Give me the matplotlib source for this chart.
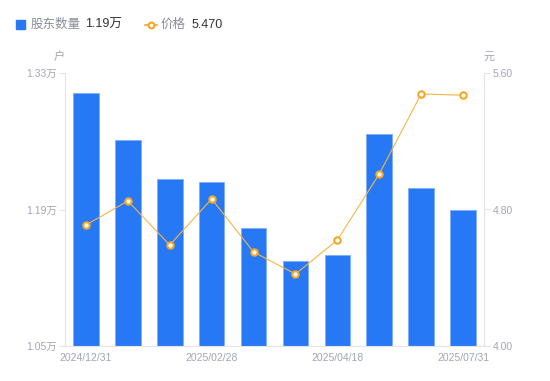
import matplotlib
matplotlib.use("Agg")
import matplotlib.pyplot as plt
from matplotlib.patches import Rectangle
from matplotlib.lines import Line2D

plt.rcParams['font.family'] = ['Liberation Sans', 'Noto Sans CJK SC', 'DejaVu Sans']

dates = ["2024/12/31", "2025/01/10", "2025/01/20", "2025/02/28", "2025/03/10",
         "2025/03/31", "2025/04/18", "2025/05/30", "2025/06/30", "2025/07/31"]
holders = [1.3095, 1.2613, 1.2213, 1.2182, 1.171, 1.1372, 1.1433, 1.2674, 1.212, 1.19]
price = [4.709, 4.850, 4.592, 4.862, 4.551, 4.422, 4.621, 5.008, 5.477, 5.470]
left_ticks = [1.05, 1.19, 1.33]
right_ticks = [4.00, 4.80, 5.60]
shown_labels = [0, 3, 6, 9]

W, H = 550, 381
fig = plt.figure(figsize=(5.5, 3.81), dpi=100)
ax = fig.add_axes([65 / W, (H - 346) / H, (484 - 65) / W, (346 - 73) / H])
ax2 = ax.twinx()

bar_color = "#2778F5"
line_color = "#F5A623"
tick_color = "#A3A5B3"
axis_color = "#E3E3E8"

x = list(range(len(dates)))
ax.bar(x, holders, width=0.61, color=bar_color, edgecolor="#7FAEF8", linewidth=0.6, zorder=2)
ax.set_xlim(-0.5, len(dates) - 0.5)
ax.set_ylim(left_ticks[0], left_ticks[-1])
ax.set_yticks(left_ticks)
ax.set_yticklabels([f"{v:.2f}万" for v in left_ticks])
ax.set_xticks([x[i] for i in shown_labels])
ax.set_xticklabels([dates[i] for i in shown_labels])

ax2.plot(x, price, color="#F7B445", lw=0.8, marker='o', markersize=4.6,
         markerfacecolor='white', markeredgecolor=line_color, markeredgewidth=1.5, zorder=3)
ax2.set_ylim(right_ticks[0], right_ticks[-1])
ax2.set_yticks(right_ticks)
ax2.set_yticklabels([f"{v:.2f}" for v in right_ticks])

for a in (ax, ax2):
    for s in a.spines.values():
        s.set_visible(False)
ax.spines['left'].set_visible(True)
ax.spines['left'].set_color(axis_color)
ax.spines['bottom'].set_visible(True)
ax.spines['bottom'].set_color(axis_color)
ax2.spines['right'].set_visible(True)
ax2.spines['right'].set_color(axis_color)

ax.tick_params(axis='y', colors=axis_color, labelcolor=tick_color, labelsize=7.5, length=4, pad=2)
ax.tick_params(axis='x', length=0, labelcolor=tick_color, labelsize=7.5, pad=5)
ax2.tick_params(axis='y', colors=axis_color, labelcolor=tick_color, labelsize=7.5, length=4, pad=2)

fig.text(59 / W, 1 - 57 / H, "户", color=tick_color, fontsize=8, ha='center', va='center')
fig.text(489 / W, 1 - 57 / H, "元", color=tick_color, fontsize=8, ha='center', va='center')

# legend
fig.patches.append(Rectangle((16 / W, 1 - 29 / H), 9 / W, 9 / H, transform=fig.transFigure,
                             color=bar_color, figure=fig))
fig.text(31 / W, 1 - 24.5 / H, "股东数量", color="#8A8C99", fontsize=9, va='center')
fig.text(85 / W, 1 - 24.5 / H, "1.19万", color="#333333", fontsize=9, va='center')
fig.lines.append(Line2D([145 / W, 157 / W], [1 - 24.5 / H] * 2, transform=fig.transFigure,
                        color=line_color, lw=1.2, figure=fig))
fig.lines.append(Line2D([151 / W], [1 - 24.5 / H], transform=fig.transFigure, marker='o',
                        markersize=4.2, markerfacecolor='white', markeredgecolor=line_color,
                        markeredgewidth=1.5, color=line_color, figure=fig))
fig.text(161 / W, 1 - 24.5 / H, "价格", color="#8A8C99", fontsize=9, va='center')
fig.text(192 / W, 1 - 24.5 / H, "5.470", color="#333333", fontsize=9, va='center')

fig.savefig("out.png", dpi=100)
